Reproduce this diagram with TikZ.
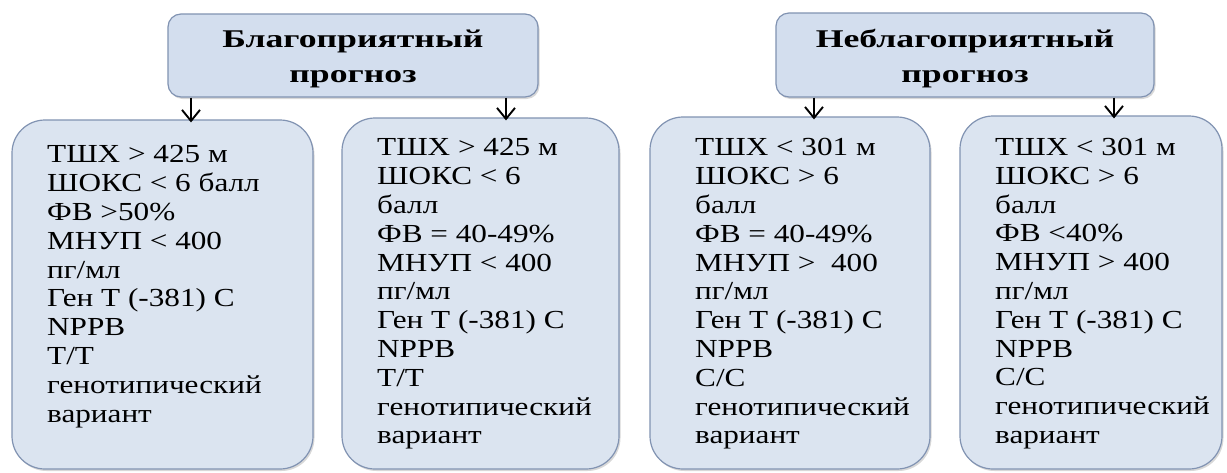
\documentclass[tikz,border=0pt]{standalone}
\usepackage{fontspec}
\setmainfont{Liberation Serif}
\newfontfamily\bodyfont[FakeStretch=1.2]{Liberation Serif}
\newfontfamily\titlefont[FakeStretch=1.4]{Liberation Serif}
\usetikzlibrary{arrows.meta,shadows}
\definecolor{boxfill}{HTML}{DBE4F0}
\definecolor{topfill}{HTML}{D3DEEE}
\definecolor{boxline}{HTML}{8193B2}
\begin{document}
\begin{tikzpicture}[x=1pt,y=-1pt,
  bigbox/.style={draw=boxline,line width=1.2pt,fill=boxfill,rounded corners=33pt,inner sep=0pt,
    drop shadow={shadow xshift=1.5pt,shadow yshift=-2pt,opacity=0.25,fill=black!60}},
  topbox/.style={draw=boxline,line width=1.2pt,fill=topfill,rounded corners=13pt,inner sep=0pt,
    drop shadow={shadow xshift=1.5pt,shadow yshift=-2pt,opacity=0.25,fill=black!60}},
  titletext/.style={inner sep=0pt,align=center,
    font=\titlefont\bfseries\fontsize{25.5}{35}\selectfont},
  bodytext/.style={anchor=north west,inner sep=0pt,align=left,
    font=\bodyfont\fontsize{26}{28.8}\selectfont},
  arr/.style={-{Straight Barb[length=11pt,width=18pt]},line width=1.9pt,black,shorten >=-3pt}]
\useasboundingbox (0,0) rectangle (1227,472);
\fill[white] (0,0) rectangle (1227,472);
% top boxes
\node[topbox,minimum width=370pt,minimum height=83pt] (t1) at (353,55.5) {};
\node[topbox,minimum width=378pt,minimum height=84pt] (t2) at (965,55) {};
\node[titletext] (t1l) at (353,59) {Благоприятный\\прогноз};
\node[titletext] (t2l) at (965,59) {Неблагоприятный\\прогноз};
% bottom boxes
\node[bigbox,minimum width=301pt,minimum height=349pt] (A) at (162.5,294.5) {};
\node[bigbox,minimum width=277pt,minimum height=351pt] (B) at (480.5,293.5) {};
\node[bigbox,minimum width=280pt,minimum height=352pt] (C) at (790,293) {};
\node[bigbox,minimum width=262pt,minimum height=353pt] (D) at (1091,292.5) {};
% texts
\node[bodytext] (ta) at (47,145.4) {ТШХ > 425 м\\ШОКС < 6 балл\\ФВ >50\%\\МНУП < 400\\пг/мл\\Ген Т (-381) С\\NPPB\\Т/Т\\генотипический\\вариант};
\node[bodytext] (tb) at (377,138.4) {ТШХ > 425 м\\ШОКС < 6\\балл\\ФВ = 40-49\%\\МНУП < 400\\пг/мл\\Ген Т (-381) С\\NPPB\\Т/Т\\генотипический\\вариант};
\node[bodytext] (tc) at (695,138.4) {ТШХ < 301 м\\ШОКС > 6\\балл\\ФВ = 40-49\%\\МНУП >\ \ 400\\пг/мл\\Ген Т (-381) С\\NPPB\\С/С\\генотипический\\вариант};
\node[bodytext] (td) at (995,138) {ТШХ < 301 м\\ШОКС > 6\\балл\\ФВ <40\%\\МНУП > 400\\пг/мл\\Ген Т (-381) С\\NPPB\\С/С\\генотипический\\вариант};
% arrows
\coordinate (p1) at (191,0);
\coordinate (p2) at (506,0);
\coordinate (p3) at (814,0);
\coordinate (p4) at (1114,0);
\draw[arr] (t1.south -| p1) -- (A.north -| p1);
\draw[arr] (t1.south -| p2) -- (B.north -| p2);
\draw[arr] (t2.south -| p3) -- (C.north -| p3);
\draw[arr] (t2.south -| p4) -- (D.north -| p4);
\end{tikzpicture}
\end{document}
